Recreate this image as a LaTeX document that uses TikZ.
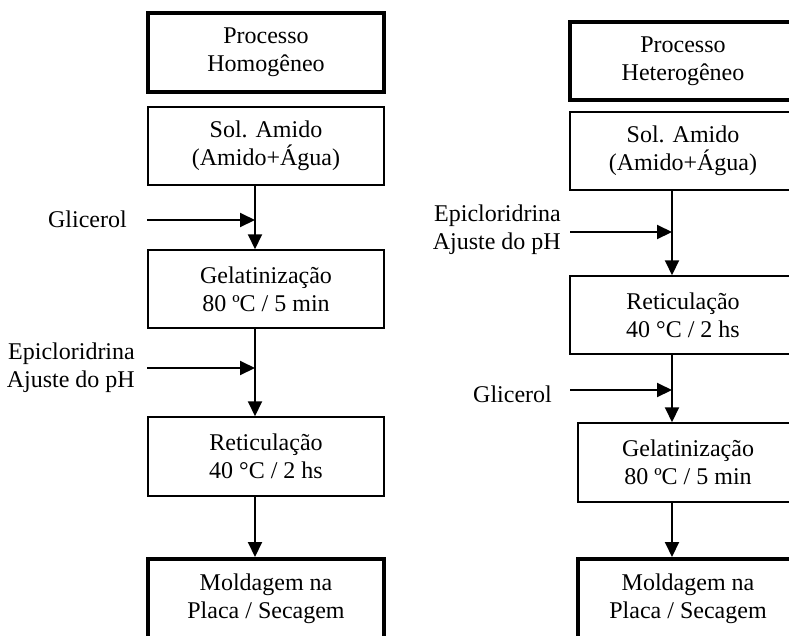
\documentclass[tikz,border=0pt]{standalone}
\usepackage{fontspec}
\setmainfont{Liberation Serif}
\usetikzlibrary{arrows.meta}
\tikzset{
  box/.style={draw, line width=1.5pt, inner sep=0pt, align=center,
    minimum height=78pt, font=\fontsize{24}{28}\selectfont},
  wideL/.style={minimum width=236pt},
  wideR/.style={minimum width=226pt},
  heavy/.style={line width=4pt},
  arr/.style={line width=2pt, -{Triangle[length=15pt,width=14pt]}},
  lbl/.style={font=\fontsize{24}{28}\selectfont, inner sep=0pt, align=right}
}
\begin{document}
\begin{tikzpicture}[x=1pt,y=-1pt]
\useasboundingbox (0,0) rectangle (789,635);
\clip (0,0) rectangle (789,635);
% column axes
\coordinate (Lx) at (255,0);
\coordinate (Rx) at (672,0);
% left column
\node[box,wideL,heavy,minimum height=79pt] (ph) at (266,52.5) {Processo\\Homogêneo};
\node[box,wideL] (sa) at (266,146) {Sol. Amido\\(Amido+Água)};
\node[box,wideL] (ge) at (266,289) {Gelatinização\\80 ºC / 5 min};
\node[box,wideL,minimum height=79pt] (re) at (266,456.5) {Reticulação\\40 °C / 2 hs};
\node[box,wideL,heavy,minimum height=79pt] (mo) at (266,598.5) {Moldagem na\\Placa / Secagem};
\draw[arr] (sa.south -| Lx) -- (ge.north -| Lx);
\draw[arr] (ge.south -| Lx) -- (re.north -| Lx);
\draw[arr] (re.south -| Lx) -- (mo.north -| Lx);
\coordinate (gL) at (147,220);
\coordinate (eL) at (147,368);
\draw[arr] (gL) -- (gL -| Lx);
\draw[arr] (eL) -- (eL -| Lx);
\node[lbl,anchor=base east] (glL) at (127,227) {Glicerol};
\node[lbl,anchor=east] (epL) at (135,368) {Epicloridrina\\Ajuste do pH};
% right column
\node[box,wideR,heavy] (ph2) at (683,61) {Processo\\Heterogêneo};
\node[box,wideR] (sa2) at (683,151) {Sol. Amido\\(Amido+Água)};
\node[box,wideR] (re2) at (683,315) {Reticulação\\40 °C / 2 hs};
\node[box,minimum width=220pt,minimum height=79pt] (ge2) at (688,462.5) {Gelatinização\\80 ºC / 5 min};
\node[box,minimum width=220pt,heavy,minimum height=79pt] (mo2) at (688,598.5) {Moldagem na\\Placa / Secagem};
\draw[arr] (sa2.south -| Rx) -- (re2.north -| Rx);
\draw[arr] (re2.south -| Rx) -- (ge2.north -| Rx);
\draw[arr] (ge2.south -| Rx) -- (mo2.north -| Rx);
\coordinate (eR) at (570,232);
\coordinate (gR) at (570,390);
\draw[arr] (eR) -- (eR -| Rx);
\draw[arr] (gR) -- (gR -| Rx);
\node[lbl,anchor=east] (epR) at (561,230) {Epicloridrina\\Ajuste do pH};
\node[lbl,anchor=base east] (glR) at (552,402) {Glicerol};
\end{tikzpicture}
\end{document}
